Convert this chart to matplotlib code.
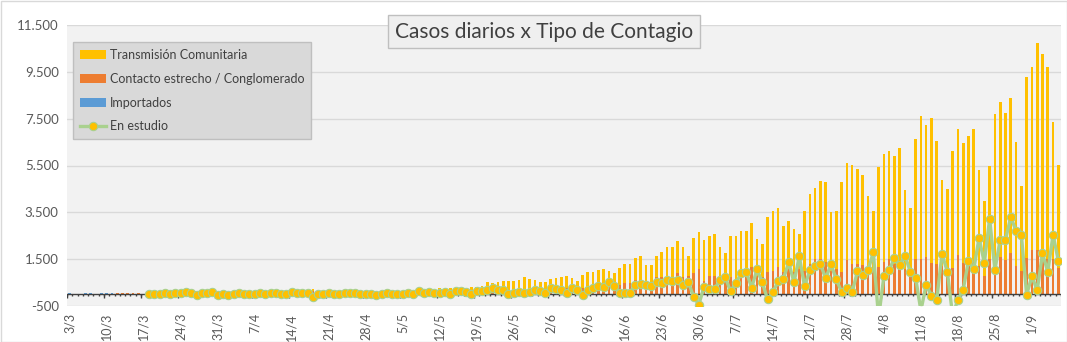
import matplotlib
matplotlib.use("Agg")
import matplotlib.pyplot as plt
from matplotlib.patches import Patch, Rectangle
from matplotlib.lines import Line2D
import numpy as np
import pandas as pd

plt.rcParams['font.family'] = ['Lato', 'DejaVu Sans']

# Daily categories, 3/3 .. 6/9
dates = pd.date_range("2020-03-03", periods=188, freq="D")
categories = [f"{d.day}/{d.month}" for d in dates]

importados = (
    [40, 0, 0, 40, 40, 30, 40, 40, 40, 10, 10, 0, 0, 0, 10,
     10, 10, 15, 20, 25, 15, 10, 15, 20, 40, 15, 10, 10, 20, 10, 10,
     5, 5, 5, 5, 5]
    + [0] * 152
)

contacto = [
    0, 0, 0, 0, 0, 0, 0, 0, 0, 40, 40, 40, 40, 40, 20,
    4, 10, 10, 20, 30, 25, 25, 30, 40, 100, 40, 25, 40, 110, 30, 40,
    35, 40, 35, 40, 45, 40, 35, 40, 45, 40, 45, 40, 50, 45, 40, 150,
    45, 50, 45, 55, 50, 40, 45, 55, 50, 60, 55, 90, 60, 65, 70, 65,
    75, 70, 80, 75, 85, 80,
    80, 90, 90, 80, 80, 90, 80, 100, 100, 110, 150, 120, 130, 150, 140,
    150, 160, 200, 220, 160, 150, 140, 200,
    250, 230, 250, 260, 230, 280, 330, 320, 350, 370, 360, 340, 380,
    500, 470, 620, 600, 520, 520, 720, 720, 780, 720, 890, 740, 760,
    890, 1060, 560, 800, 780,
    640, 600, 720, 600, 850, 900, 1150, 800, 720, 940, 1000, 1150, 940,
    1060, 940, 1060, 1000, 1280, 1490, 1490, 1400, 1000, 1060, 960,
    1450, 1280, 1280, 1230, 1000, 1000, 1150, 1360, 1490,
    1280, 1060, 1060, 780, 1490, 1490, 1590, 1350, 1300, 1200, 1140,
    1140, 1660, 1350, 1490, 1400, 1200, 780, 1490, 1450, 1590, 1450,
    1770, 1200, 1000, 1550, 1890, 1890, 1770, 1490, 1500, 1120,
]

comunitaria = [
    0, 0, 0, 0, 0, 0, 0, 0, 0, 0, 0, 0, 0, 0, 0,
    0, 0, 0, 0, 5, 0, 0, 5, 10, 10, 5, 5, 10, 20, 10, 10,
    10, 15, 10, 15, 20, 20, 15, 20, 25, 20, 25, 20, 30, 25, 20, 90,
    25, 30, 25, 35, 30, 20, 25, 35, 30, 40, 35, 60, 40, 45, 50, 45,
    55, 50, 60, 55, 65, 60,
    118, 165, 165, 175, 120, 140, 130, 198, 198, 230, 360, 348, 380,
    403, 413, 403, 436, 523, 418, 436, 360, 370, 438,
    431, 493, 516, 421, 323, 528, 606, 616, 671, 694, 619, 554, 726,
    777, 807, 912, 1017, 714, 714, 897, 1067, 1220, 1280, 1365, 1260,
    857, 1535, 1621, 1738, 1668, 1816,
    1360, 1145, 1790, 1910, 1873, 1823, 1914, 1540, 1408, 2379, 2574,
    2552, 1996, 2089, 1868, 1536, 2574, 3018, 3063, 3361, 3408, 2532,
    2514, 3848, 4167, 4252, 4081, 3876, 3212, 2574, 4296, 4640, 4637,
    4634, 5195, 3408, 2922, 5148, 6126, 5644, 6181, 5253, 3693, 3370,
    4987, 5403, 5118, 5276, 5663, 4119, 3220, 3999, 6252, 6622, 6294,
    6612, 5310, 3638, 7726, 7811, 8833, 8485, 8211, 5861, 4412,
]

en_estudio = (
    [None] * 15
    + [14, 14, 14, 57, 28, 43, 57, 114, 57, -28, 43, 43, 114, -14, 14,
       -14, 28, 43, 14, 28, 28, 43, 28, 43, 71, 28, 14, 85, 43, 43, 43,
       -114, 28, 14, 43, 28, 28, 71, 71, 43, 14, 14, 28, -14,
       28, 71, 28, 28, 28, 71, 28, 156, 71, 113, 71, 71, 113, 28, 156,
       156, 113, 28, 156, 156, 199, 284, 199, 199, 28, 71, 113, 71, 113,
       199, 156, 71, 284,
       241, 198, 71, 284, 198, -14, 198, 284, 369, 326, 540, 369, 71,
       71, 71, 411, 454, 411, 369, 540, 496, 624, 581, 624, 411, 540,
       -99, -440, 326, 241, 241,
       596, 723, 128, 468, 894, 936, 284, 1064, 510, -213, 85, 553, 667,
       1362, 510, 1617, 340, 1021, 1191, 1277, 681, 1277, 638, 99, 284,
       85, 979, 808, 1021, 1787, -1000, 766, 1021,
       1560, 1234, 1646, 965, 710, -700, 412, -71, -227, 1730, 965, -900,
       -227, 198, 1432, 1064, 2411, 1347, 3220, 1050, 2326, 2326, 3305,
       2709, 2539, -14, 766, 170, 1744, 965, 2539, 1432]
)

YELLOW, ORANGE, BLUE = '#FFC000', '#ED7D31', '#5B9BD5'
GREEN = '#A9D18E'
TXT = '#595959'

n = len(categories)
x = np.arange(n)
imp = np.array(importados, dtype=float)
con = np.array(contacto, dtype=float)
com = np.array(comunitaria, dtype=float)
est = np.array([np.nan if v is None else v for v in en_estudio], dtype=float)

W, H = 1067, 342
fig = plt.figure(figsize=(W / 100, H / 100), dpi=100)
fig.patch.set_facecolor('white')

ax = fig.add_axes([67 / W, (H - 306) / H, (1061 - 67) / W, (306 - 25) / H])
ax.set_facecolor('#F2F2F2')
ax.set_xlim(-0.5, n - 0.5)
ax.set_ylim(-500, 11500)

yt = np.arange(-500, 11501, 2000)
ax.set_yticks(yt)
ax.set_yticklabels([f"{v:,}".replace(",", ".") for v in yt])
ax.yaxis.grid(True, color='#D9D9D9', lw=1)
ax.set_axisbelow(True)
for s in ax.spines.values():
    s.set_visible(False)
ax.tick_params(axis='y', length=0, pad=6, labelsize=9.5, labelcolor=TXT)

ax.set_xticks(x[::7])
ax.set_xticklabels(categories[::7], rotation=90)
ax.tick_params(axis='x', length=0, pad=5, labelsize=9, labelcolor=TXT)

# Stacked columns
bw = 0.5
ax.bar(x, imp, bw, color=BLUE, lw=0, zorder=2)
ax.bar(x, con, bw, bottom=imp, color=ORANGE, lw=0, zorder=2)
ax.bar(x, com, bw, bottom=imp + con, color=YELLOW, lw=0, zorder=2)

# Category axis crossing at zero with tick marks between categories
ax.axhline(0, color='#404040', lw=1, zorder=3)
px = 12000 / 281
bounds = np.arange(n + 1) - 0.5
ax.vlines(bounds, -2 * px, 0, color='#404040', lw=1, zorder=3)
ax.vlines(bounds[::7], -4 * px, 0, color='#404040', lw=1, zorder=3)

# Unclassified cases line
ax.plot(x, est, color=GREEN, lw=2.4, marker='o', ms=6, mfc=YELLOW,
        mec=GREEN, mew=0.8, zorder=4, solid_joinstyle='round')

handles = [
    Patch(facecolor=YELLOW, edgecolor='none'),
    Patch(facecolor=ORANGE, edgecolor='none'),
    Patch(facecolor=BLUE, edgecolor='none'),
    Line2D([0], [0], color=GREEN, lw=2.4, marker='o', ms=6, mfc=YELLOW,
           mec=GREEN, mew=0.8),
]
labels = ['Transmisión Comunitaria', 'Contacto estrecho / Conglomerado',
          'Importados', 'En estudio']
leg = fig.legend(handles, labels, loc='upper left',
                 bbox_to_anchor=(73 / W, 1 - 42 / H), frameon=True,
                 fontsize=9, facecolor='#D9D9D9', edgecolor='#BFBFBF',
                 fancybox=False, framealpha=1, borderpad=0.55,
                 labelspacing=0.95, handlelength=2.1, handletextpad=0.3,
                 borderaxespad=0)
leg.get_frame().set_linewidth(1)
for t in leg.get_texts():
    t.set_color('#404040')

fig.text(544 / W, 1 - 31.5 / H, "Casos diarios x Tipo de Contagio",
         ha='center', va='center', fontsize=15, color='#404040',
         bbox=dict(boxstyle='square,pad=0.32', fc='#EFEFEF', ec='#BFBFBF',
                   lw=1))

fig.add_artist(Rectangle((0.5 / W, 0.5 / H), 1 - 1 / W, 1 - 1 / H,
                         transform=fig.transFigure, fill=False,
                         ec='#D9D9D9', lw=1))

fig.savefig('out.png', dpi=100)
